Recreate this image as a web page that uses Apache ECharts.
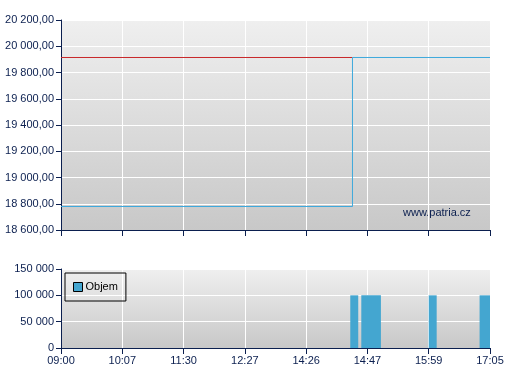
<!DOCTYPE html>
<html><head><meta charset="utf-8">
<script src="https://cdn.jsdelivr.net/npm/echarts@6/dist/echarts.min.js"></script>
<style>html,body{margin:0;padding:0;background:#fff}#c{width:507px;height:380px}</style>
</head><body><div id="c"></div>
<script>
var xLabels = ['09:00','10:07','11:30','12:27','14:26','14:47','15:59','17:05'];
var priceX = [0, 4.756, 7];
var priceY = [18779, 19914.3, 19914.3];
var refPrice = 19914.3;
var volStart = [4.72, 4.90, 6.00, 6.83];
var volEnd = [4.85, 5.22, 6.13, 7.00];
var volume = [100000, 100000, 100000, 100000];
var priceTicks = [18600, 20200, 200];
var volTicks = [0, 150000, 50000];

var navy = '#0b1f4f';
var font = 'Liberation Sans, Arial, sans-serif';
function fmt(v, dec) {
  var s = v.toFixed(dec).split('.');
  var i = s[0].replace(/\B(?=(\d{3})+(?!\d))/g, ' ');
  return dec ? i + ',' + s[1] : i;
}
function bg() {
  return {type:'linear',x:0,y:0,x2:0,y2:1,colorStops:[{offset:0,color:'#efefef'},{offset:1,color:'#c8c8c8'}]};
}
var axisLine = {show:true, lineStyle:{color:navy, width:1}};
function xAxis(gi, showLabel) {
  return {type:'value', gridIndex:gi, min:0, max:7, interval:1,
    axisLine:axisLine, axisTick:{show:true, length:6, lineStyle:{color:navy}},
    axisLabel:{show:showLabel, color:navy, fontFamily:font, fontSize:11, margin:7,
      formatter:function(v){return xLabels[Math.round(v)];}},
    splitLine:{show:true, lineStyle:{color:'#ffffff', width:1}}};
}
function yAxis(gi, t, dec) {
  return {type:'value', gridIndex:gi, min:t[0], max:t[1], interval:t[2],
    axisLine:axisLine, axisTick:{show:true, length:5, lineStyle:{color:navy}},
    axisLabel:{color:navy, fontFamily:font, fontSize:11, margin:7,
      formatter:function(v){return fmt(v, dec);}},
    splitLine:{show:true, lineStyle:{color:'#ffffff', width:1}}};
}
var chart = echarts.init(document.getElementById('c'));
chart.setOption({
  animation:false,
  grid:[
    {left:61, top:20, width:429, height:210, show:true, backgroundColor:bg(), borderWidth:0},
    {left:61, top:269, width:429, height:79, show:true, backgroundColor:bg(), borderWidth:0}
  ],
  xAxis:[xAxis(0,false), xAxis(1,true)],
  yAxis:[yAxis(0,priceTicks,2), yAxis(1,volTicks,0)],
  legend:{left:65, top:273, data:['Objem'], orient:'vertical', borderColor:'#000', borderWidth:1,
    padding:[8,8,8,8], itemWidth:9, itemHeight:9, itemGap:4,
    icon:'rect', itemStyle:{borderColor:'#000', borderWidth:1},
    textStyle:{color:'#000', fontFamily:font, fontSize:11, lineHeight:12, padding:[0,0,0,-2]}},
  graphic:[{type:'text', left:403, top:207, style:{text:'www.patria.cz', fill:navy, font:'11px Liberation Sans, Arial, sans-serif'}}],
  series:[
    {type:'line', xAxisIndex:0, yAxisIndex:0, symbol:'none', lineStyle:{color:'#c8282a', width:1},
      data:[[0, refPrice],[priceX[1], refPrice]], z:2},
    {type:'line', xAxisIndex:0, yAxisIndex:0, symbol:'none', step:'end', lineStyle:{color:'#3fa9dc', width:1},
      data:priceX.map(function(x,i){return [x, priceY[i]];}), z:3},
    {type:'custom', name:'Objem', xAxisIndex:1, yAxisIndex:1, itemStyle:{color:'#44a6d0'},
      data:volStart.map(function(s,i){return [s, volEnd[i], volume[i]];}),
      renderItem:function(params, api){
        var p0 = api.coord([api.value(0), api.value(2)]);
        var p1 = api.coord([api.value(1), 0]);
        return {type:'rect', shape:{x:p0[0], y:p0[1], width:p1[0]-p0[0], height:p1[1]-p0[1]},
          style:{fill:'#44a6d0'}};
      },
      encode:{x:[0,1], y:2}}
  ]
});
</script></body></html>
